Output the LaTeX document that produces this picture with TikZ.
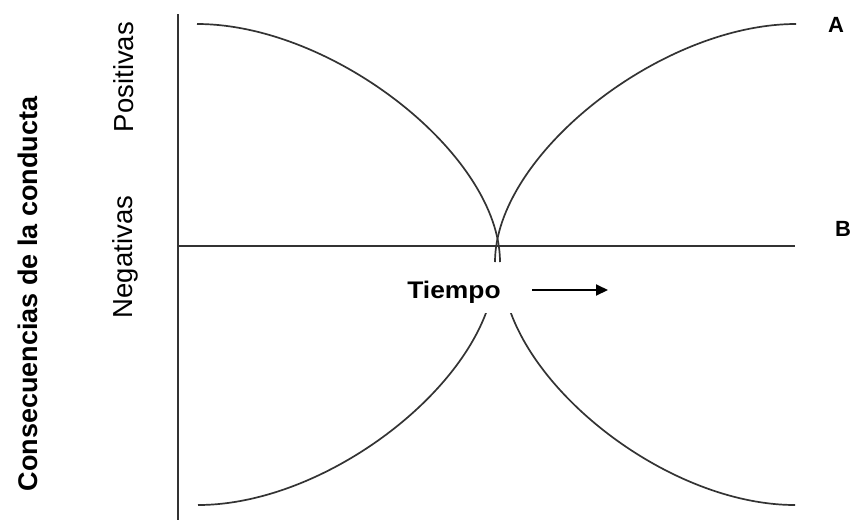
\documentclass[tikz,border=0pt]{standalone}
\usepackage{fontspec}
\usepackage{graphicx}
\setmainfont{Liberation Sans}
\usetikzlibrary{arrows.meta}
\tikzset{
  axisline/.style={line width=1.9pt, draw=black!80},
  curveline/.style={line width=1.7pt, draw=black!80},
  boldlbl/.style={font=\bfseries\fontsize{22}{22}\selectfont, inner sep=0pt},
  sidelbl/.style={font=\fontsize{27.5}{27.5}\selectfont, rotate=90, anchor=base, inner sep=0pt},
}
\begin{document}
\begin{tikzpicture}[x=1pt,y=-1pt]
\useasboundingbox (0,0) rectangle (851,520);
% axes
\coordinate (vtop) at (178,14);
\coordinate (vbot) at (178,520);
\coordinate (hleft) at (178,246);
\coordinate (hright) at (795,246);
\draw[axisline] (vtop) -- (vbot);
\draw[axisline] (hleft) -- (hright);
% curves
\coordinate (ulS) at (197,24);  \coordinate (ulE) at (500,262);
\coordinate (urS) at (796,24);  \coordinate (urE) at (495,262);
\coordinate (llS) at (198,505); \coordinate (llE) at (495,267);
\coordinate (lrS) at (795,505); \coordinate (lrE) at (502,267);
\draw[curveline] (ulS) .. controls (333,24) and (500,155) .. (ulE);
\draw[curveline] (urS) .. controls (661,24) and (495,155) .. (urE);
\draw[curveline] (llS) .. controls (333,505) and (495,374) .. (llE);
\draw[curveline] (lrS) .. controls (661,505) and (502,374) .. (lrE);
% white cover behind the time label
\fill[white] (395,263) rectangle (526,313);
% labels
\node[font=\bfseries\fontsize{24}{24}\selectfont, anchor=base, inner sep=0pt] (tiempo) at (454,298) {\scalebox{1.1}[1]{Tiempo}};
\coordinate (arrS) at (532,290);
\coordinate (arrE) at (608,290);
\draw[line width=1.9pt, -{Triangle[length=12pt,width=11pt]}] (arrS) -- (arrE);
\node[boldlbl, anchor=base] (A) at (836,32) {A};
\node[boldlbl, anchor=base] (B) at (843,236) {B};
\node[sidelbl, font=\bfseries\fontsize{27}{27}\selectfont] (cons) at (37,294) {Consecuencias de la conducta};
\node[sidelbl] (pos) at (133,77) {Positivas};
\node[sidelbl] (neg) at (132,257) {Negativas};
\end{tikzpicture}
\end{document}
